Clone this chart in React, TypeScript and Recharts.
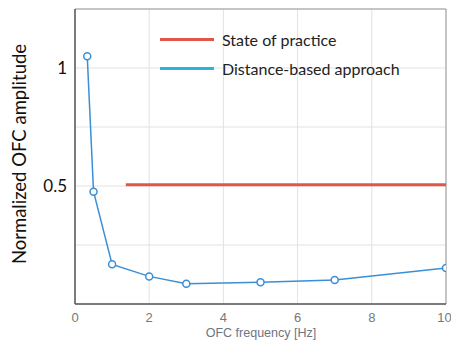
import React from "react";
import {
  LineChart,
  Line,
  XAxis,
  YAxis,
  CartesianGrid,
  ReferenceLine,
} from "recharts";

const frequencies = [0.33, 0.5, 1, 2, 3, 5, 7, 10];
const distanceBased = [1.05, 0.476, 0.168, 0.117, 0.086, 0.092, 0.102, 0.153];
const practiceX = [1.37, 10];
const practiceY = [0.505, 0.505];
const xTicks = [0, 2, 4, 6, 8, 10];
const yTicks = [0, 0.25, 0.5, 0.75, 1, 1.25];
const yLabelled = [0.5, 1];
const legendNames = ["State of practice", "Distance-based approach"];

const distanceData = frequencies.map((f, i) => ({ f, v: distanceBased[i] }));
const practiceData = practiceX.map((f, i) => ({ f, v: practiceY[i] }));

const RED = "#e0574a";
const BLUE = "#3a8fd6";
const FONT = "Lato, 'Open Sans', sans-serif";

// legend sits inside the plot, top middle, like the matlab box without a border
function LegendBox() {
  const colors = [RED, "#2db3d8"];
  return (
    <div
      style={{
        position: "absolute",
        left: 160,
        top: 25,
        fontFamily: FONT,
        fontSize: 16,
        color: "#222",
        pointerEvents: "none",
      }}
    >
      {legendNames.map((name, i) => (
        <div key={name} style={{ display: "flex", alignItems: "center", height: 29 }}>
          <span
            style={{
              display: "inline-block",
              width: 54,
              height: 3,
              background: colors[i],
              marginRight: 8,
            }}
          />
          {name}
        </div>
      ))}
    </div>
  );
}

export default function App() {
  return (
    <div style={{ position: "absolute", left: 0, top: 0, background: "#fff" }}>
      <LineChart
        width={451}
        height={340}
        margin={{ top: 9, right: 5, bottom: 0, left: 0 }}
      >
        <CartesianGrid stroke="#e2e2e2" />
        <XAxis
          type="number"
          dataKey="f"
          domain={[0, 10]}
          ticks={xTicks}
          height={36}
          tickLine={false}
          axisLine={{ stroke: "#555", strokeWidth: 1.5 }}
          tick={{ fill: "#777", fontSize: 13, fontFamily: "'Liberation Sans', Arial" }}
          tickMargin={3}
          allowDataOverflow
          label={() => (
            <text
              x={261}
              y={333}
              textAnchor="middle"
              dominantBaseline="central"
              fill="#6c7582"
              fontSize={12.5}
              fontFamily="'Liberation Sans', Arial"
            >
              OFC frequency [Hz]
            </text>
          )}
        />
        <YAxis
          type="number"
          domain={[0, 1.25]}
          ticks={yTicks}
          width={75}
          tickLine={false}
          axisLine={{ stroke: "#555", strokeWidth: 1.5 }}
          tick={{ fill: "#111", fontSize: 17, fontFamily: FONT }}
          tickFormatter={(v: number) => (yLabelled.includes(v) ? String(v) : "")}
          tickMargin={2}
          label={() => (
            <text
              x={19}
              y={154}
              transform="rotate(-90 19 154)"
              textAnchor="middle"
              dominantBaseline="central"
              fill="#111"
              fontSize={18.5}
              fontFamily={FONT}
            >
              Normalized OFC amplitude
            </text>
          )}
        />
        <ReferenceLine y={1.25} stroke="#999" />
        <ReferenceLine x={10} stroke="#999" />
        <Line
          data={practiceData}
          dataKey="v"
          stroke={RED}
          strokeWidth={3}
          dot={false}
          isAnimationActive={false}
        />
        <Line
          data={distanceData}
          dataKey="v"
          stroke={BLUE}
          strokeWidth={1.5}
          dot={{ r: 3.5, stroke: BLUE, strokeWidth: 1.5, fill: "#fff" }}
          isAnimationActive={false}
        />
      </LineChart>
      <LegendBox />
    </div>
  );
}
